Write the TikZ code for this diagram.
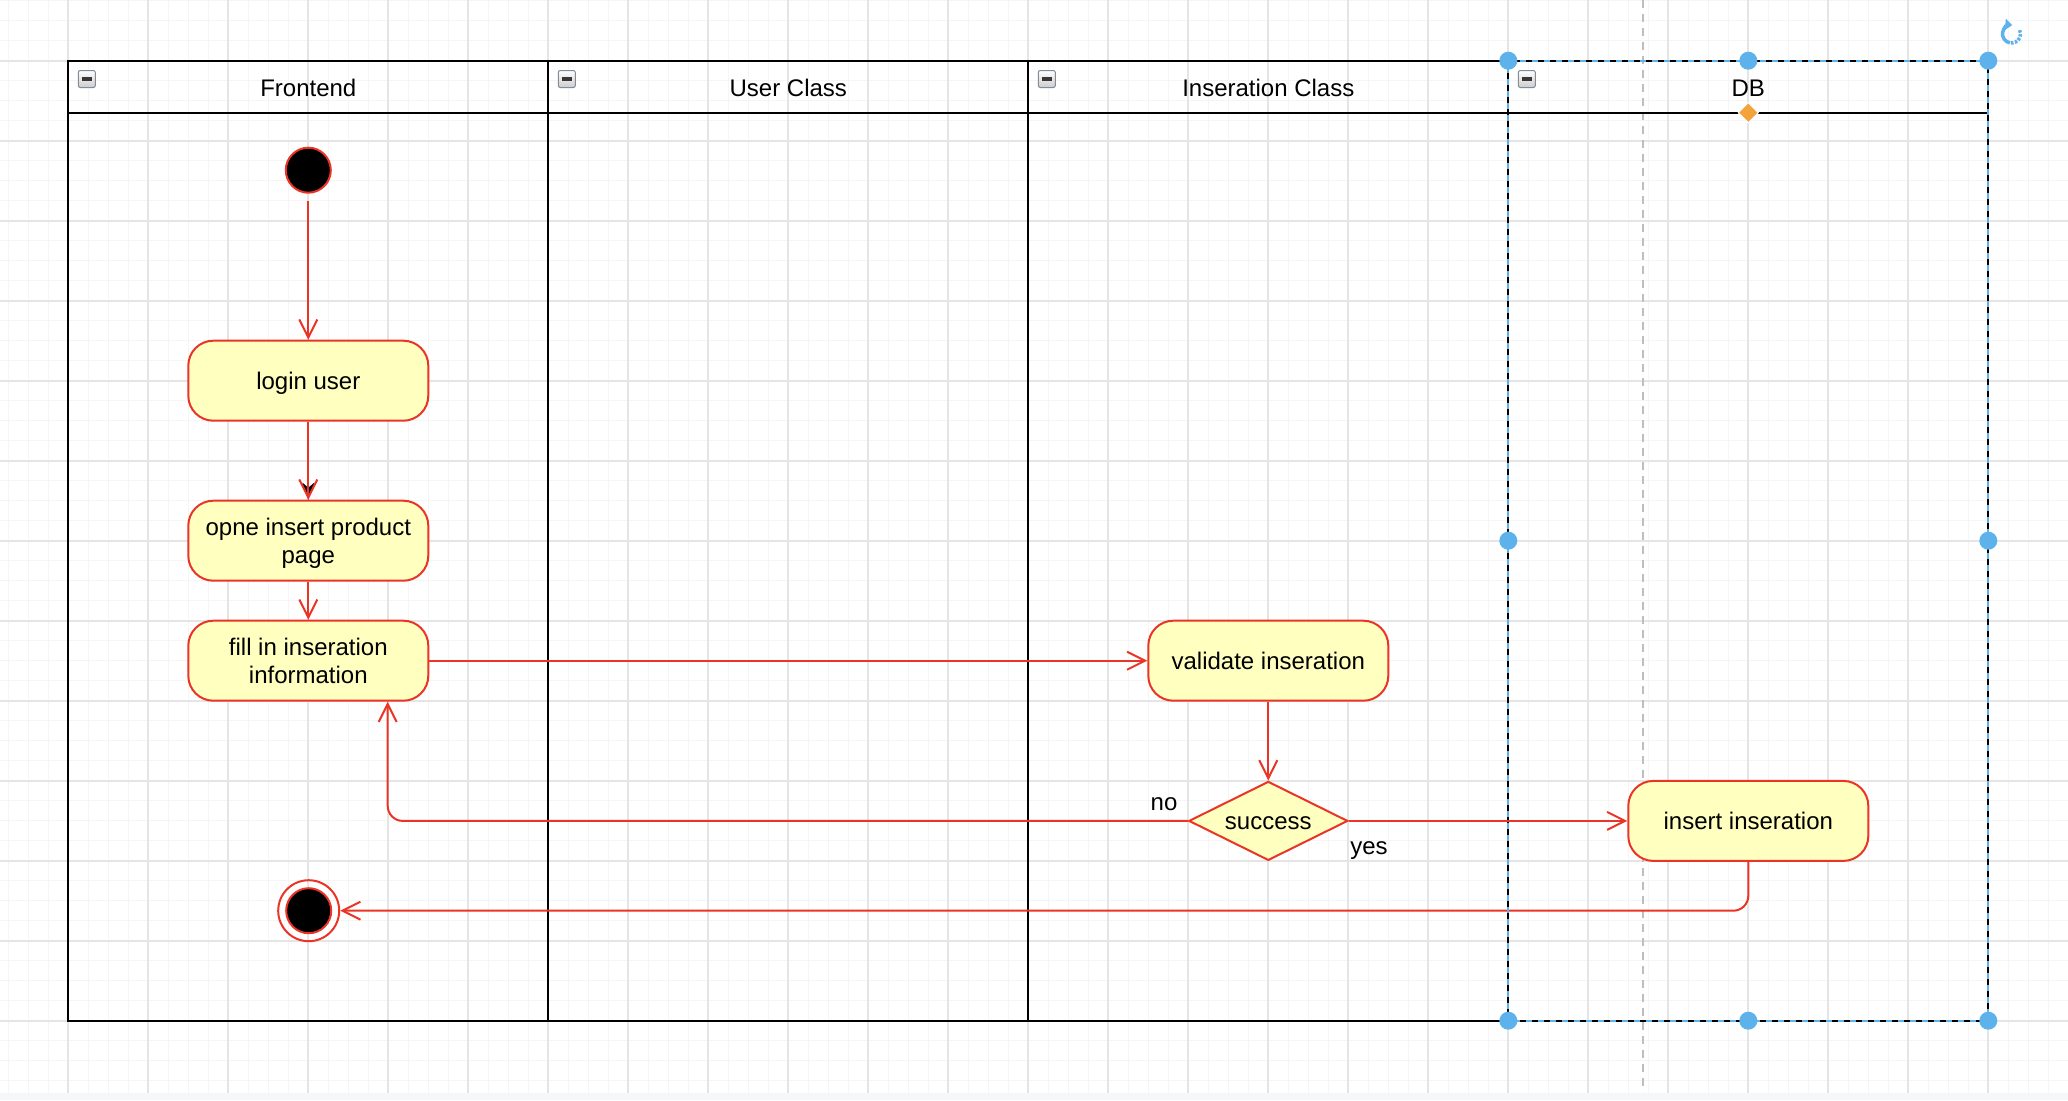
\documentclass[tikz,border=0pt]{standalone}
\usepackage{fontspec}
\setmainfont{Liberation Sans}
\usetikzlibrary{arrows.meta,shapes.geometric,calc}

\definecolor{flowred}{RGB}{234,52,38}
\definecolor{actfill}{RGB}{255,255,192}
\definecolor{gridminor}{RGB}{245,245,245}
\definecolor{gridmajor}{RGB}{229,229,229}
\definecolor{handleblue}{RGB}{94,178,236}
\definecolor{guidegray}{RGB}{190,190,190}
\definecolor{pageband}{RGB}{246,247,249}
\definecolor{anchororange}{RGB}{242,163,58}
\definecolor{iconedge}{RGB}{128,140,156}

\begin{document}
\begin{tikzpicture}[x=1pt,y=-1pt,
  every node/.style={font=\fontsize{24}{28}\selectfont},
  lane/.style={line width=2pt, draw=black},
  act/.style={draw=flowred, fill=actfill, line width=2pt, rounded corners=25pt,
    minimum width=240pt, minimum height=80pt, align=center, inner sep=0pt},
  oneline/.style={text height=17pt, text depth=0pt},
  decide/.style={diamond, draw=flowred, fill=actfill, line width=2pt, aspect=2,
    minimum width=159pt, minimum height=79pt, inner sep=0pt},
  flow/.style={draw=flowred, line width=2pt, -{Straight Barb[length=18pt,width=18pt]}},
  handle/.style={fill=handleblue}]

\useasboundingbox (0,0) rectangle (2068,1100);
\fill[white] (0,0) rectangle (2068,1100);

% background grid: minor every 20, major every 80
\foreach \i in {0,...,102}
  \draw[gridminor, line width=1.5pt] ({8.3+20*\i},0) -- ({8.3+20*\i},1093.3);
\foreach \j in {0,...,54}
  \draw[gridminor, line width=1.5pt] (0,{0.7+20*\j}) -- (2068,{0.7+20*\j});
\foreach \i in {0,...,24}
  \draw[gridmajor, line width=2pt] ({68.3+80*\i},0) -- ({68.3+80*\i},1093.3);
\foreach \j in {0,...,12}
  \draw[gridmajor, line width=2pt] (0,{60.7+80*\j}) -- (2068,{60.7+80*\j});
\fill[pageband] (0,1093.3) rectangle (2068,1100);

% vertical guide
\draw[guidegray, line width=2pt, dash pattern=on 8pt off 6pt] (1642.7,0) -- (1642.7,1092);

% swimlane pool
\draw[lane] (68.3,60.7) rectangle (1988.3,1020.7);
\draw[lane] (68.3,112.7) -- (1988.3,112.7);
\foreach \lx in {548.3,1028.3,1508.3}
  \draw[lane] (\lx,60.7) -- (\lx,1020.7);

\node[anchor=base] (hfront) at (308.3,96) {Frontend};
\node[anchor=base] (huser)  at (788.3,96) {User Class};
\node[anchor=base] (hins)   at (1268.3,96) {Inseration Class};
\node[anchor=base] (hdb)    at (1748.3,96) {DB};

% collapse buttons
\foreach \lx in {68.3,548.3,1028.3,1508.3} {
  \shadedraw[top color=white, bottom color=gray!40, draw=iconedge, line width=1pt,
    rounded corners=2pt] ({\lx+10},70.5) rectangle ({\lx+27},87.5);
  \fill[black!78] ({\lx+13.5},77.3) rectangle ({\lx+23.5},80.8);
}

% activity nodes
\node[circle, fill=black, draw=flowred, line width=2pt, minimum size=45pt, inner sep=0pt]
  (start) at (308.3,170.2) {};
\node[act, oneline] (login) at (308.3,380.7) {login user};
\node[act] (open) at (308.3,540.7) {\rule{0pt}{22.5pt}opne insert product\\page};
\node[act] (fill) at (308.3,660.7) {fill in inseration\\information};
\node[act, oneline] (validate) at (1268.3,660.7) {validate inseration};
\node[decide, oneline] (dec) at (1268.3,820.9) {success};
\node[act, oneline] (insert) at (1748.3,820.9) {insert inseration};
\node[circle, draw=flowred, line width=2pt, minimum size=61pt, inner sep=0pt]
  (end) at (308.7,910.7) {};
\node[circle, fill=black, draw=flowred, line width=2pt, minimum size=45pt, inner sep=0pt]
  (endcore) at (308.7,910.7) {};

% connectors
\draw[flow, shorten <=7pt] (start) -- (login);
\draw[black, line width=0.4pt, -{Stealth[length=17pt,width=12pt,inset=5pt]}] (login) -- (open);
\draw[flow] (login) -- (open);
\draw[flow] (open) -- (fill);
\draw[flow] (fill) -- (validate);
\draw[flow] (validate) -- (dec);
\draw[flow] (dec) -- (insert);
\draw[flow, rounded corners=15pt] (dec.west) -| ([xshift=-41.6pt]fill.south east);
\draw[flow, rounded corners=15pt] (insert.south) |- (end);

\node[anchor=base] (lno)  at (1164,810.5) {no};
\node[anchor=base] (lyes) at (1369,854) {yes};

% selection outline of the DB lane
\draw[handleblue, line width=2pt, dash pattern=on 6pt off 6pt]
  (1508.3,60.7) -- (1988.3,60.7) -- (1988.3,1020.7) -- (1508.3,1020.7) -- cycle;
\foreach \hx/\hy in {1508.3/60.7, 1748.3/60.7, 1988.3/60.7,
                     1508.3/540.7, 1988.3/540.7,
                     1508.3/1020.7, 1748.3/1020.7, 1988.3/1020.7}
  \fill[handle] (\hx,\hy) circle[radius=9];
\fill[anchororange, draw=white, line width=1pt]
  (1748.3,102.7) -- (1758.3,112.7) -- (1748.3,122.7) -- (1738.3,112.7) -- cycle;

% rotate handle
\draw[handleblue, line width=3.5pt, dash pattern=on 2.5pt off 1.5pt]
  (2011.5,34) ++(-25:9) arc[start angle=-25, end angle=100, radius=9];
\draw[handleblue, line width=3.5pt, -{Triangle[length=7pt,width=11pt]}]
  (2011.5,34) ++(100:9) arc[start angle=100, end angle=275, radius=9];
\end{tikzpicture}
\end{document}
